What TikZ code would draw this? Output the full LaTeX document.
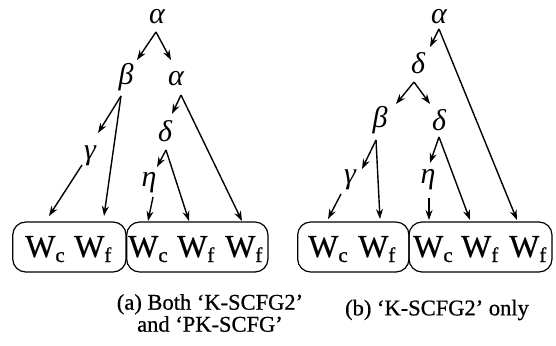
\documentclass[tikz,border=0pt]{standalone}
\usepackage{fontspec}
\setmainfont{Liberation Serif}
\newfontfamily\heavyserif[FakeBold=0.6]{Liberation Serif}
\usetikzlibrary{arrows.meta}
% word symbol with a lowered roman subscript
\newcommand\wsym[1]{W\raisebox{-5pt}{\fontsize{21}{21}\selectfont #1}}
\begin{document}
\begin{tikzpicture}[x=1pt,y=-1pt,
  greek/.style={font=\fontsize{30}{30}\selectfont\itshape, inner sep=0pt},
  wlabel/.style={font=\heavyserif\fontsize{32}{32}\selectfont, inner sep=0pt, anchor=base west},
  wbox/.style={draw, line width=1.2pt, rounded corners=13pt, minimum height=50pt, inner sep=0pt},
  edge/.style={line width=1.4pt, -{Stealth[length=10pt,width=7pt]}},
  caption/.style={font=\heavyserif\fontsize{22.5}{22}\selectfont, align=center, inner sep=0pt}]
\useasboundingbox (0,0) rectangle (556,345);

% ---------------- panel (a) ----------------
\node[greek] (aA)  at (157,17)  {α};
\node[greek] (aB)  at (126,77)  {β};
\node[greek] (aA2) at (176,79)  {α};
\node[greek] (aD)  at (165,131) {δ};
\node[greek] (aG)  at (90,156)  {γ};
\node[greek] (aH)  at (149,183) {η};

\node[wbox, minimum width=113.3pt] (aL) at (69.4,247) {};
\node[wbox, minimum width=141.3pt] (aR) at (197.3,247) {};

\node[wlabel] (aW1) at (25,257)  {\wsym{c}};
\node[wlabel] (aW2) at (74,257)  {\wsym{f}};
\node[wlabel] (aW3) at (128,257) {\wsym{c}};
\node[wlabel] (aW4) at (177,257) {\wsym{f}};
\node[wlabel] (aW5) at (225,257) {\wsym{f}};

% branch points and arrow tips
\coordinate (aAo)  at (156,32);
\coordinate (aBo)  at (121,96);
\coordinate (aA2o) at (181,95);
\coordinate (aDo)  at (166,150);
\coordinate (aGo)  at (82,165);
\coordinate (aHo)  at (153,197);
\coordinate (aBi)  at (137,60);
\coordinate (aA2i) at (171,60);
\coordinate (aGi)  at (98,133);
\coordinate (aDi)  at (172,114);
\coordinate (aHi)  at (157,167);
\coordinate (aW1i) at (49,216);
\coordinate (aW2i) at (104,216);
\coordinate (aW3i) at (148,221);
\coordinate (aW4i) at (189,221);
\coordinate (aW5i) at (242,221);

\draw[edge] (aAo) -- (aBi);
\draw[edge] (aAo) -- (aA2i);
\draw[edge] (aBo) -- (aGi);
\draw[edge] (aBo) -- (aW2i);
\draw[edge] (aGo) -- (aW1i);
\draw[edge] (aA2o) -- (aDi);
\draw[edge] (aA2o) -- (aW5i);
\draw[edge] (aDo) -- (aHi);
\draw[edge] (aDo) -- (aW4i);
\draw[edge] (aHo) -- (aW3i);

\node[caption] (capA) at (210,313) {(a) Both ‘K-SCFG2’\\and ‘PK-SCFG’};

% ---------------- panel (b) ----------------
\node[greek] (bA)  at (439,17)  {α};
\node[greek] (bD)  at (418,63)  {δ};
\node[greek] (bB)  at (380,120) {β};
\node[greek] (bD2) at (439,120) {δ};
\node[greek] (bG)  at (350,180) {γ};
\node[greek] (bH)  at (428,180) {η};

\node[wbox, minimum width=111.3pt] (bL) at (353.3,247) {};
\node[wbox, minimum width=143pt]   (bR) at (480.5,247) {};

\node[wlabel] (bW1) at (308,257) {\wsym{c}};
\node[wlabel] (bW2) at (358,257) {\wsym{f}};
\node[wlabel] (bW3) at (413,257) {\wsym{c}};
\node[wlabel] (bW4) at (461,257) {\wsym{f}};
\node[wlabel] (bW5) at (509,257) {\wsym{f}};

\coordinate (bAo)  at (439,29);
\coordinate (bDo)  at (414,82);
\coordinate (bBo)  at (376,140);
\coordinate (bD2o) at (439,137);
\coordinate (bGo)  at (341,194);
\coordinate (bHo)  at (429,198);
\coordinate (bDi)  at (430,47);
\coordinate (bBi)  at (396,104);
\coordinate (bD2i) at (430,104);
\coordinate (bGi)  at (362,169);
\coordinate (bHi)  at (430,163);
\coordinate (bW1i) at (328,219);
\coordinate (bW2i) at (380,219);
\coordinate (bW3i) at (429,220);
\coordinate (bW4i) at (470,220);
\coordinate (bW5i) at (517,220);

\draw[edge] (bAo) -- (bDi);
\draw[edge] (bAo) -- (bW5i);
\draw[edge] (bDo) -- (bBi);
\draw[edge] (bDo) -- (bD2i);
\draw[edge] (bBo) -- (bGi);
\draw[edge] (bBo) -- (bW2i);
\draw[edge] (bGo) -- (bW1i);
\draw[edge] (bD2o) -- (bHi);
\draw[edge] (bD2o) -- (bW4i);
\draw[edge] (bHo) -- (bW3i);

\node[caption] (capB) at (437,310) {(b) ‘K-SCFG2’ only};
\end{tikzpicture}
\end{document}
